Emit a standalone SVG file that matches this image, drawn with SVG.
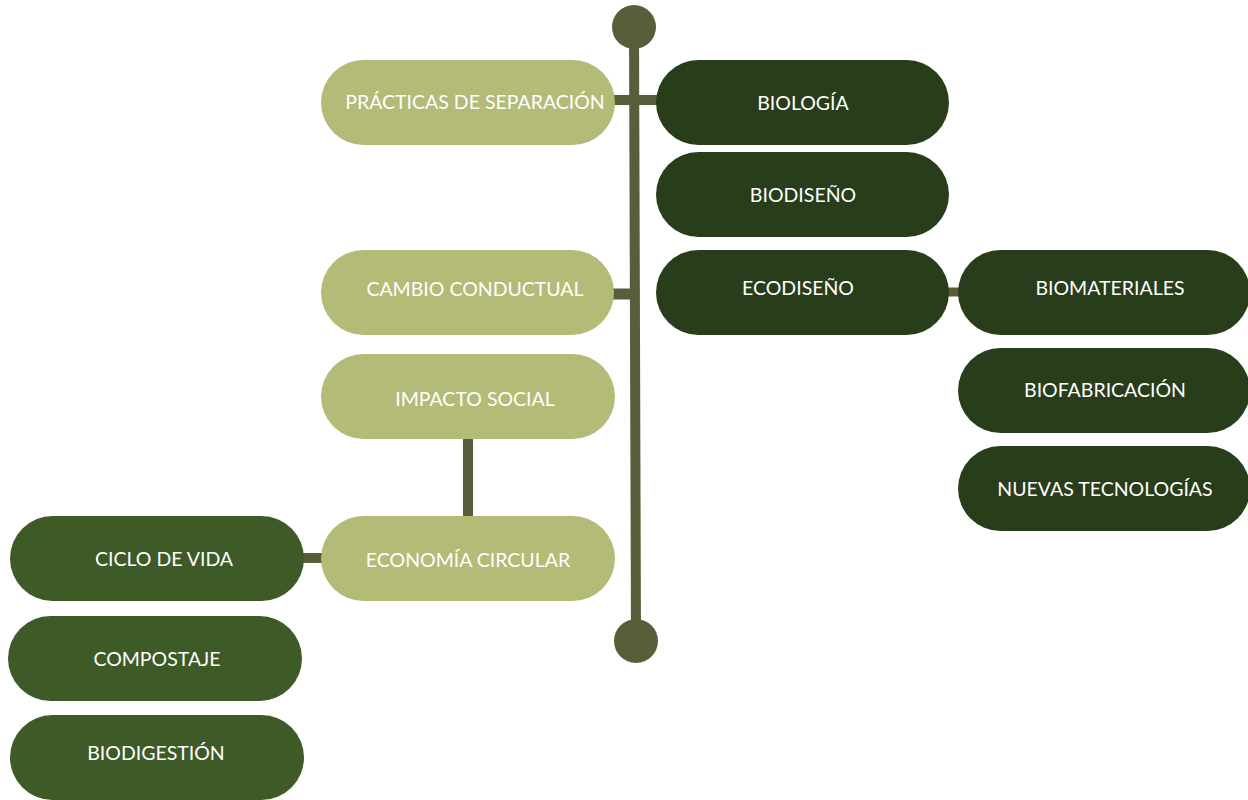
<svg xmlns="http://www.w3.org/2000/svg" width="1248" height="800" viewBox="0 0 1248 800">
  <style>
    .light { fill: #b3bb76; }
    .dark { fill: #283d19; }
    .mid { fill: #3d5a27; }
    .lbl { font-family: "Lato", "Open Sans", "Liberation Sans", sans-serif; font-size: 19.5px; font-weight: 400; fill: #ffffff; text-anchor: middle; dominant-baseline: central; }
    .link { stroke: #575f3a; fill: none; }
    .cap { fill: #575f3a; }
  </style>
  <rect width="1248" height="800" fill="#ffffff"/>

  <!-- connectors -->
  <g id="connectors">
    <line class="link" x1="634" y1="27" x2="636" y2="641" stroke-width="10"/>
    <line class="link" x1="610" y1="100" x2="660" y2="100" stroke-width="10"/>
    <line class="link" x1="610" y1="294" x2="634" y2="294" stroke-width="11"/>
    <line class="link" x1="945" y1="292" x2="962" y2="292" stroke-width="9"/>
    <line class="link" x1="468" y1="436" x2="468" y2="518" stroke-width="10"/>
    <line class="link" x1="300" y1="558" x2="325" y2="558" stroke-width="10"/>
    <circle class="cap" cx="634" cy="27" r="22"/>
    <circle class="cap" cx="636" cy="641" r="22"/>
  </g>

  <!-- left branch -->
  <g id="practicas">
    <rect class="light" x="321" y="60" width="294" height="85" rx="42.5"/>
    <text class="lbl" x="475" y="101">PRÁCTICAS DE SEPARACIÓN</text>
  </g>
  <g id="cambio">
    <rect class="light" x="321" y="250" width="293" height="85" rx="42.5"/>
    <text class="lbl" x="475" y="288">CAMBIO CONDUCTUAL</text>
  </g>
  <g id="impacto">
    <rect class="light" x="321" y="354" width="294" height="85" rx="42.5"/>
    <text class="lbl" x="475" y="398">IMPACTO SOCIAL</text>
  </g>
  <g id="economia">
    <rect class="light" x="321" y="516" width="294" height="85" rx="42.5"/>
    <text class="lbl" x="468" y="559">ECONOMÍA CIRCULAR</text>
  </g>

  <!-- right branch -->
  <g id="biologia">
    <rect class="dark" x="656" y="60" width="293" height="85" rx="42.5"/>
    <text class="lbl" x="803" y="102">BIOLOGÍA</text>
  </g>
  <g id="biodiseno">
    <rect class="dark" x="656" y="152" width="293" height="85" rx="42.5"/>
    <text class="lbl" x="803" y="194">BIODISEÑO</text>
  </g>
  <g id="ecodiseno">
    <rect class="dark" x="656" y="250" width="293" height="85" rx="42.5"/>
    <text class="lbl" x="798" y="287">ECODISEÑO</text>
  </g>
  <g id="biomateriales">
    <rect class="dark" x="958" y="250" width="292" height="85" rx="42.5"/>
    <text class="lbl" x="1110" y="287">BIOMATERIALES</text>
  </g>
  <g id="biofabricacion">
    <rect class="dark" x="958" y="348" width="292" height="85" rx="42.5"/>
    <text class="lbl" x="1105" y="389">BIOFABRICACIÓN</text>
  </g>
  <g id="nuevas">
    <rect class="dark" x="958" y="446" width="292" height="85" rx="42.5"/>
    <text class="lbl" x="1105" y="488">NUEVAS TECNOLOGÍAS</text>
  </g>

  <!-- circular economy sub-branch -->
  <g id="ciclo">
    <rect class="mid" x="10" y="516" width="294" height="85" rx="42.5"/>
    <text class="lbl" x="164" y="558">CICLO DE VIDA</text>
  </g>
  <g id="compostaje">
    <rect class="mid" x="8" y="616" width="294" height="85" rx="42.5"/>
    <text class="lbl" x="157" y="658">COMPOSTAJE</text>
  </g>
  <g id="biodigestion">
    <rect class="mid" x="10" y="715" width="294" height="85" rx="42.5"/>
    <text class="lbl" x="156" y="752">BIODIGESTIÓN</text>
  </g>
</svg>
